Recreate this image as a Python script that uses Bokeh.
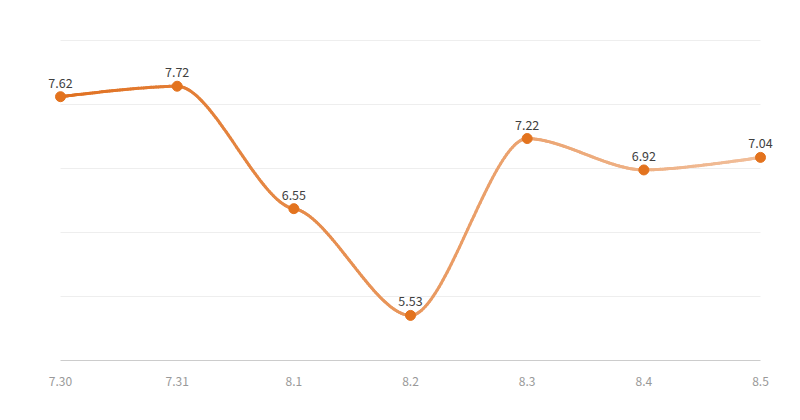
import numpy as np
from bokeh.plotting import figure
from bokeh.models import FixedTicker, ColumnDataSource, Range1d
from bokeh.core.properties import value
from bokeh.embed import file_html
from bokeh.resources import INLINE

categories = ["7.30", "7.31", "8.1", "8.2", "8.3", "8.4", "8.5"]
values = [7.62, 7.72, 6.55, 5.53, 7.22, 6.92, 7.04]
labels = ["7.62", "7.72", "6.55", "5.53", "7.22", "6.92", "7.04"]

n = len(values)
W, H = 792, 412
FB = 40                      # space under the frame for the x labels
PL, PR, PT, PB = 60, 760, 40, 360
ylo, yhi = 5.099, 8.157      # value range mapped onto PB..PT
sx = (PR - PL) / (n - 1)
sy = (PB - PT) / (yhi - ylo)
xr = Range1d(-PL / sx, (n - 1) + (W - PR) / sx)
yr = Range1d(ylo - ((H - FB) - PB) / sy, yhi + PT / sy)

p = figure(width=W, height=H, output_backend="svg", toolbar_location=None,
           x_range=xr, y_range=yr,
           min_border_left=0, min_border_right=0, min_border_top=0, min_border_bottom=FB)
p.outline_line_color = None
p.background_fill_color = "white"
p.border_fill_color = "white"
p.xgrid.grid_line_color = None
p.ygrid.grid_line_color = None
p.yaxis.visible = False

xs = np.arange(n, dtype=float)

# horizontal grid lines and axis line, only across the category span
step = (yhi - ylo) / 5
gy = [ylo + step * i for i in range(1, 6)]
p.segment(x0=[0.0] * len(gy), y0=gy, x1=[float(n - 1)] * len(gy), y1=gy,
          line_color="#eeeeee", line_width=1)
p.segment(x0=[0.0], y0=[ylo], x1=[float(n - 1)], y1=[ylo], line_color="#cccccc", line_width=1)

# smooth curve: near-horizontal tangents (monotone in x), handle = 0.3 * dx
hf = 0.3
tilt = 0.15
vals = np.array(values, dtype=float)
slopes = np.zeros(n)
for i in range(1, n - 1):
    a, b, c = vals[i - 1], vals[i], vals[i + 1]
    if (b - a) * (c - b) > 0:   # not a local extreme
        slopes[i] = tilt * (c - a) / 2.0
dx_list, dy_list = [], []
t = np.linspace(0, 1, 60)
for k in range(n - 1):
    x0_, y0_ = xs[k], vals[k]
    x3_, y3_ = xs[k + 1], vals[k + 1]
    if k == 0:
        c0 = (x0_, y0_)
    else:
        c0 = (x0_ + hf, y0_ + slopes[k] * hf)
    if k + 1 == n - 1:
        c1 = (x3_, y3_)
    else:
        c1 = (x3_ - hf, y3_ - slopes[k + 1] * hf)
    bx = (1 - t) ** 3 * x0_ + 3 * (1 - t) ** 2 * t * c0[0] + 3 * (1 - t) * t ** 2 * c1[0] + t ** 3 * x3_
    by = (1 - t) ** 3 * y0_ + 3 * (1 - t) ** 2 * t * c0[1] + 3 * (1 - t) * t ** 2 * c1[1] + t ** 3 * y3_
    dx_list.extend(bx[:-1])
    dy_list.extend(by[:-1])
dx_list.append(xs[-1]); dy_list.append(vals[-1])
dx = np.array(dx_list)
dy = np.array(dy_list)

base = np.array([224, 112, 32], dtype=float)
a0, a1 = 1.0, 0.45
cols = []
for i in range(len(dx) - 1):
    f = (dx[i] + dx[i + 1]) / 2 / (n - 1)
    a = a0 + (a1 - a0) * f
    c = base * a + 255 * (1 - a)
    cols.append("#%02x%02x%02x" % tuple(int(round(v)) for v in c))

seg = ColumnDataSource(dict(x0=dx[:-1], y0=dy[:-1], x1=dx[1:], y1=dy[1:], c=cols))
p.segment("x0", "y0", "x1", "y1", source=seg, line_color="c", line_width=3, line_cap="round")

src = ColumnDataSource(dict(x=xs, y=values, t=labels))
p.scatter("x", "y", source=src, size=10, fill_color="#e3731e", line_color="#e3731e")
p.text("x", "y", text="t", source=src, text_align="center", text_baseline="alphabetic",
       y_offset=-14, text_font=value("Noto Sans CJK SC"), text_font_size="12.5px",
       text_color="#404040")

ax = p.xaxis[0]
ax.ticker = FixedTicker(ticks=list(xs))
ax.major_label_overrides = {i: categories[i] for i in range(n)}
ax.axis_line_color = None
ax.major_tick_line_color = None
ax.minor_tick_line_color = None
ax.major_tick_out = 0
ax.major_tick_in = 0
ax.major_label_standoff = 4
ax.major_label_text_font = "Noto Sans CJK SC"
ax.major_label_text_font_size = "12px"
ax.major_label_text_color = "#999999"

open("out.html", "w").write(file_html(p, INLINE))
